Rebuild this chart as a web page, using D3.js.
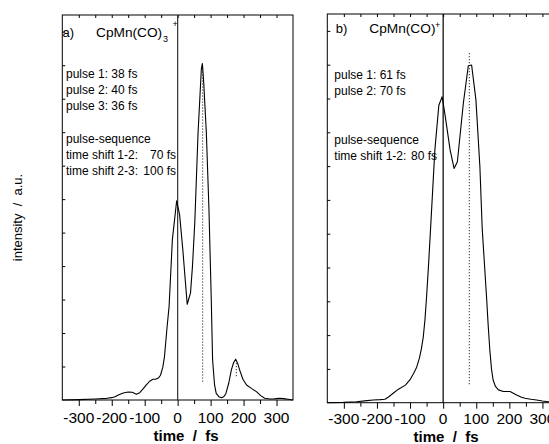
<!DOCTYPE html>
<html>
<head>
<meta charset="utf-8">
<script src="https://cdn.jsdelivr.net/npm/d3@7"></script>
<style>
  html, body { margin: 0; padding: 0; background: #fff; }
  svg { display: block; font-family: "Liberation Sans", Arial, sans-serif; }
</style>
</head>
<body>
<svg id="chart" width="549" height="444"></svg>
<script>
// ---- data ----
const timeA = [-350, -300, -250, -215, -200, -190, -180, -165, -150, -138, -125, -115, -105, -95, -85, -75, -67, -58, -52, -45, -40, -32, -26, -16, -3, 6, 16, 27, 29, 39, 45, 52, 62, 72, 75, 79, 87, 95, 102, 106, 112, 117, 125, 133, 140, 146, 155, 163, 170, 176, 182, 188, 198, 209, 225, 239, 252, 264, 280, 290, 300, 310, 322, 335, 350];
const intensityA = [0, 0.01, 0.03, 0.05, 0.07, 0.1, 0.15, 0.21, 0.24, 0.23, 0.17, 0.22, 0.33, 0.45, 0.56, 0.62, 0.62, 0.66, 0.74, 0.98, 1.29, 2.19, 2.79, 4.79, 5.95, 5.53, 4.45, 3.1, 2.86, 3.2, 4.0, 5.3, 8.0, 9.9, 10.05, 9.5, 8.0, 5.7, 3.0, 1.2, 0.45, 0.2, 0.1, 0.07, 0.1, 0.18, 0.5, 0.9, 1.12, 1.22, 1.1, 0.9, 0.62, 0.45, 0.34, 0.25, 0.13, 0.05, 0.03, 0.03, 0.04, 0.05, 0.04, 0.02, 0];

const timeB = [-350, -302, -262, -230, -211, -190, -176, -165, -151, -135, -114, -100, -89, -80, -72, -66, -60, -55, -50, -44, -38, -25, -13, -3, 5, 21, 33, 43, 61, 76, 86, 99, 111, 118, 131, 136, 141, 146, 151, 158, 167, 182, 202, 212, 222, 235, 247, 265, 282, 300, 317, 350];
const intensityB = [0, 0.01, 0.03, 0.06, 0.08, 0.09, 0.1, 0.17, 0.28, 0.4, 0.52, 0.68, 0.87, 1.05, 1.31, 1.58, 1.95, 2.45, 3.14, 4.1, 5.15, 7.48, 8.8, 9.05, 8.56, 7.48, 6.93, 7.13, 8.86, 9.97, 9.99, 8.96, 6.98, 5.15, 3.14, 2.3, 1.56, 1.0, 0.67, 0.48, 0.38, 0.33, 0.33, 0.28, 0.23, 0.17, 0.13, 0.1, 0.08, 0.05, 0.03, 0.01];

// dotted markers: [time, fromIntensity, toIntensity]
const markersA = [[76, 9.9, 0.55], [178, 1.1, 0.66]];
const markersB = [[79, 10.34, 0.52]];

const xTickLabels = [-300, -200, -100, 0, 100, 200, 300];
const xMinorTicks = d3.range(-300, 301, 50);
const yTicks = d3.range(1, 12);

const textA = ["pulse 1: 38 fs", "pulse 2: 40 fs", "pulse 3: 36 fs", "", "pulse-sequence"];
const shiftsA = [["time shift 1-2:", "70 fs"], ["time shift 2-3:", "100 fs"]];
const textB = ["pulse 1: 61 fs", "pulse 2: 70 fs", "", "", "pulse-sequence"];
const shiftsB = [["time shift 1-2:", "80 fs"]];

// ---- drawing ----
const svg = d3.select("#chart");

function panel(cfg) {
  const x = d3.scaleLinear().domain([-350, 350]).range([cfg.left, cfg.right]);
  const y = d3.scaleLinear().domain([0, 11.5]).range([cfg.bottom, cfg.top]);
  const g = svg.append("g");

  // bottom axis (outward ticks)
  const bottom = g.append("g").attr("transform", `translate(0,${cfg.bottom})`);
  bottom.call(d3.axisBottom(x).tickValues(xMinorTicks).tickSize(4).tickFormat(""))
    .call(a => a.select(".domain").remove());
  bottom.selectAll(".tick line").attr("stroke", "#000")
    .attr("y2", d => (d % 100 === 0 ? 6 : 4));
  bottom.selectAll(".tick text").remove();

  // tick labels
  g.append("g").selectAll("text").data(xTickLabels).join("text")
    .attr("x", d => x(d)).attr("y", cfg.labelY)
    .attr("text-anchor", "middle").attr("font-size", 15.5).attr("fill", "#000")
    .text(d => d);

  // top ticks (inward)
  const top = g.append("g").attr("transform", `translate(0,${cfg.top})`);
  top.call(d3.axisTop(x).tickValues(xMinorTicks).tickSize(-3).tickFormat(""))
    .call(a => a.select(".domain").remove());
  top.selectAll(".tick line").attr("stroke", "#000");

  // left ticks (inward)
  const left = g.append("g").attr("transform", `translate(${cfg.left},0)`);
  left.call(d3.axisLeft(y).tickValues(yTicks).tickSize(-3).tickFormat(""))
    .call(a => a.select(".domain").remove());
  left.selectAll(".tick line").attr("stroke", "#000");

  // frame
  g.append("rect")
    .attr("x", cfg.left).attr("y", cfg.top)
    .attr("width", cfg.right - cfg.left).attr("height", cfg.bottom - cfg.top)
    .attr("fill", "none").attr("stroke", "#000").attr("stroke-width", 1);

  // zero line
  g.append("line")
    .attr("x1", x(0)).attr("x2", x(0)).attr("y1", cfg.top).attr("y2", cfg.bottom)
    .attr("stroke", cfg.zeroColor).attr("stroke-width", 1.2);

  // dotted markers
  g.selectAll("line.marker").data(cfg.markers).join("line")
    .attr("class", "marker")
    .attr("x1", d => x(d[0])).attr("x2", d => x(d[0]))
    .attr("y1", d => y(d[1])).attr("y2", d => y(d[2]))
    .attr("stroke", "#000").attr("stroke-width", 1).attr("stroke-dasharray", "1,2");

  // curve
  const pts = cfg.time.map((t, i) => [t, cfg.intensity[i]]);
  g.append("path").datum(pts)
    .attr("fill", "none").attr("stroke", "#000").attr("stroke-width", 1.1)
    .attr("stroke-linejoin", "round")
    .attr("d", d3.line().x(d => x(d[0])).y(d => y(d[1])).curve(d3.curveLinear));

  // axis title
  g.append("text")
    .attr("x", cfg.titleX).attr("y", cfg.titleY)
    .attr("text-anchor", "middle").attr("font-size", 15).attr("font-weight", "bold")
    .attr("fill", "#000").style("white-space", "pre")
    .text("time  /  fs");

  // info text
  cfg.lines.forEach((s, i) => {
    if (!s) return;
    g.append("text").attr("x", cfg.textX).attr("y", cfg.textY0 + i * 16.2)
      .attr("font-size", 12).attr("fill", "#000").text(s);
  });
  cfg.shifts.forEach((s, i) => {
    const yy = cfg.textY0 + (5 + i) * 16.2;
    g.append("text").attr("x", cfg.textX).attr("y", yy)
      .attr("font-size", 12).attr("fill", "#000").text(s[0]);
    g.append("text").attr("x", cfg.shiftEnd).attr("y", yy)
      .attr("text-anchor", "end").attr("font-size", 12).attr("fill", "#000").text(s[1]);
  });
  return g;
}

const gA = panel({
  left: 62.3, right: 293, top: 15, bottom: 400,
  labelY: 423, titleX: 186, titleY: 441,
  zeroColor: "#333",
  time: timeA, intensity: intensityA, markers: markersA,
  lines: textA, shifts: shiftsA, textX: 66, textY0: 78, shiftEnd: 176
});
const gB = panel({
  left: 327.3, right: 559, top: 14, bottom: 402.7,
  labelY: 424, titleX: 446, titleY: 442,
  zeroColor: "#000",
  time: timeB, intensity: intensityB, markers: markersB,
  lines: textB, shifts: shiftsB, textX: 334.3, textY0: 79, shiftEnd: 437
});

// panel labels
gA.append("text").attr("x", 62.5).attr("y", 37.3).attr("font-size", 13).attr("fill", "#000").text("a)");
const tA = gA.append("text").attr("y", 37.3).attr("fill", "#000").attr("font-size", 13.7);
tA.append("tspan").attr("x", 96).text("CpMn(CO)");
tA.append("tspan").attr("x", 163).attr("y", 41.7).attr("font-size", 9).text("3");
tA.append("tspan").attr("x", 172.5).attr("y", 27).attr("font-size", 9).text("+");

gB.append("text").attr("x", 335.7).attr("y", 32.5).attr("font-size", 13).attr("fill", "#000").text("b)");
const tB = gB.append("text").attr("y", 32.5).attr("fill", "#000").attr("font-size", 13.7);
tB.append("tspan").attr("x", 369.3).text("CpMn(CO)");
tB.append("tspan").attr("x", 435).attr("y", 27.5).attr("font-size", 9).text("+");

// y-axis title
svg.append("text")
  .attr("transform", "translate(22,217.5) rotate(-90)")
  .attr("text-anchor", "middle").attr("font-size", 13).attr("fill", "#000")
  .style("white-space", "pre")
  .text("intensity  /  a.u.");
</script>
</body>
</html>
